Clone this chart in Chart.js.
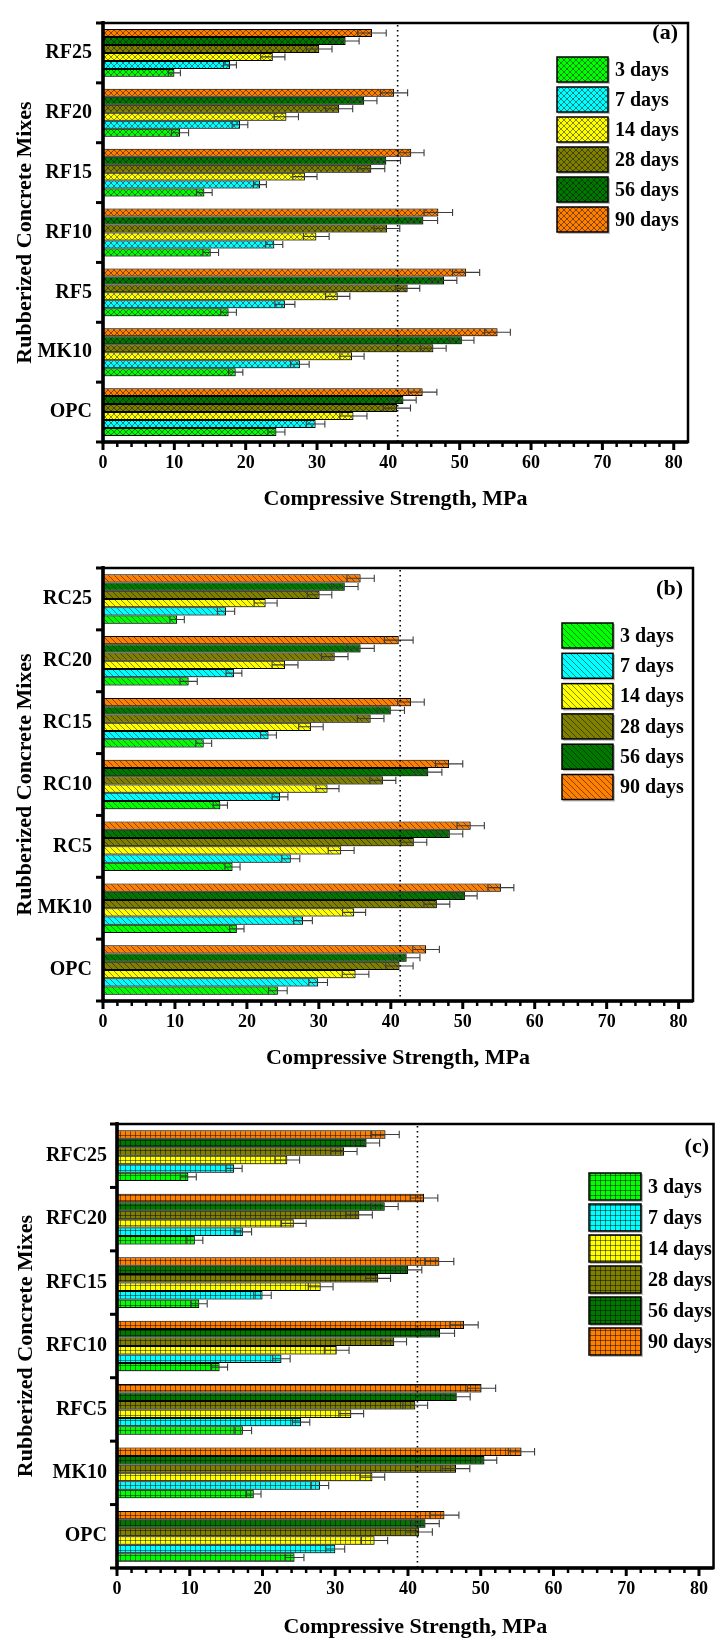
<!DOCTYPE html>
<html>
<head>
<meta charset="utf-8">
<script src="https://cdn.jsdelivr.net/npm/chart.js@4.4.1/dist/chart.umd.min.js"></script>
<style>
  body { margin: 0; background: #fff; }
  canvas { position: absolute; left: 0; }
</style>
</head>
<body>
<canvas id="chartA" width="719" height="540" style="top:0px"></canvas>
<canvas id="chartB" width="719" height="540" style="top:545px"></canvas>
<canvas id="chartC" width="719" height="546" style="top:1095px"></canvas>
<script>
// ---- data ----
var days = ['3 days', '7 days', '14 days', '28 days', '56 days', '90 days'];
var dayColors = ['#00ff00', '#00ffff', '#ffff00', '#808000', '#007800', '#ff8000'];
var xTicks = [0, 10, 20, 30, 40, 50, 60, 70, 80];
var refLine = 41.3;

// (a) fine crumb rubber
var mixesA = ['RF25', 'RF20', 'RF15', 'RF10', 'RF5', 'MK10', 'OPC'];
var a3  = [10.0, 10.8, 14.2, 15.1, 17.6, 18.6, 24.3];
var a7  = [17.8, 19.2, 22.0, 24.0, 25.5, 27.6, 29.8];
var a14 = [23.8, 25.7, 28.3, 29.9, 32.9, 34.9, 35.1];
var a28 = [30.3, 33.1, 37.6, 39.8, 42.7, 46.3, 41.2];
var a56 = [34.0, 36.6, 39.7, 44.9, 47.8, 50.3, 42.1];
var a90 = [37.7, 40.8, 43.2, 47.0, 50.9, 55.3, 44.8];
var a3e  = [0.85, 1.2, 1.1, 1.1, 1.1, 1.0, 1.2];
var a7e  = [0.9, 1.1, 0.9, 1.2, 1.4, 1.3, 1.3];
var a14e = [1.7, 1.7, 1.7, 1.8, 1.7, 1.7, 1.9];
var a28e = [1.8, 1.9, 1.9, 1.8, 1.7, 1.8, 1.9];
var a56e = [1.9, 1.8, 2.0, 2.0, 1.8, 1.7, 1.8];
var a90e = [2.0, 1.9, 1.8, 2.0, 1.9, 1.8, 2.0];

// (b) coarse crumb rubber
var mixesB = ['RC25', 'RC20', 'RC15', 'RC10', 'RC5', 'MK10', 'OPC'];
var b3  = [10.3, 11.9, 14.0, 16.3, 18.0, 18.6, 24.3];
var b7  = [17.1, 18.2, 23.0, 24.6, 26.1, 27.8, 29.9];
var b14 = [22.6, 25.3, 28.9, 31.2, 33.1, 34.9, 35.1];
var b28 = [30.1, 32.2, 37.2, 38.9, 43.2, 46.4, 41.2];
var b56 = [33.6, 35.8, 40.0, 45.2, 48.2, 50.3, 42.2];
var b90 = [35.8, 41.1, 42.8, 48.1, 51.1, 55.3, 44.9];
var b3e  = [1.0, 1.2, 1.1, 1.0, 1.05, 1.0, 1.3];
var b7e  = [1.2, 1.1, 1.1, 1.1, 1.25, 1.3, 1.3];
var b14e = [1.6, 1.8, 1.7, 1.6, 1.8, 1.6, 1.85];
var b28e = [1.7, 1.85, 1.85, 1.8, 1.8, 1.8, 1.9];
var b56e = [1.85, 1.9, 1.9, 1.9, 1.8, 1.7, 1.85];
var b90e = [1.9, 2.0, 1.85, 1.9, 1.9, 1.8, 1.85];

// (c) fine + coarse
var mixesC = ['RFC25', 'RFC20', 'RFC15', 'RFC10', 'RFC5', 'MK10', 'OPC'];
var c3  = [9.8, 10.7, 11.3, 14.1, 17.3, 18.8, 24.4];
var c7  = [16.1, 17.3, 20.0, 22.6, 25.3, 27.9, 30.0];
var c14 = [23.4, 24.3, 28.0, 30.2, 32.2, 35.1, 35.4];
var c28 = [31.2, 33.3, 35.9, 38.1, 41.0, 46.6, 41.5];
var c56 = [34.3, 36.8, 40.0, 44.4, 46.7, 50.5, 42.4];
var c90 = [36.9, 42.2, 44.3, 47.7, 50.1, 55.6, 45.0];
var c3e  = [1.1, 1.1, 1.1, 1.1, 1.2, 1.0, 1.3];
var c7e  = [1.1, 1.2, 1.2, 1.2, 1.2, 1.2, 1.3];
var c14e = [1.7, 1.7, 1.7, 1.7, 1.7, 1.7, 1.8];
var c28e = [1.8, 1.8, 1.7, 1.7, 1.7, 1.9, 1.85];
var c56e = [1.8, 1.85, 1.9, 2.0, 1.85, 1.7, 1.9];
var c90e = [1.9, 1.9, 2.0, 1.95, 1.95, 1.8, 2.0];

var serif = "'Liberation Serif', 'Times New Roman', serif";

// hatch fill like the Origin patterns
function hatch(ctx, color, kind) {
    var s = kind === 'grid' ? 5 : 6;
    var c = document.createElement('canvas');
    c.width = s; c.height = s;
    var g = c.getContext('2d');
    g.fillStyle = color;
    g.fillRect(0, 0, s, s);
    g.strokeStyle = 'rgba(0,0,0,0.6)';
    g.lineWidth = 0.8;
    g.beginPath();
    if (kind === 'grid') {
        g.moveTo(0.5, 0); g.lineTo(0.5, s);
        g.moveTo(0, 0.5); g.lineTo(s, 0.5);
    } else {
        for (var k = -1; k <= 1; k++) {
            g.moveTo(k * s, 0); g.lineTo(k * s + s, s);
            if (kind === 'cross') { g.moveTo(k * s + s, 0); g.lineTo(k * s, s); }
        }
    }
    g.stroke();
    return ctx.createPattern(c, 'repeat');
}

// error bars, dotted reference line, frame, ticks, legend, panel tag
var deco = {
    id: 'deco',
    beforeDatasetsDraw: function (chart) {
        // soft grey drop shadow under the bars, as in the original
        var g = chart.ctx;
        g.save();
        g.shadowColor = 'rgba(0,0,0,0.35)';
        g.shadowBlur = 2;
        g.shadowOffsetX = 1;
        g.shadowOffsetY = 1;
    },
    afterDatasetsDraw: function (chart, args, o) {
        var g = chart.ctx, a = chart.chartArea, xs = chart.scales.x;
        g.restore();
        g.save();
        chart.data.datasets.forEach(function (ds, di) {
            var meta = chart.getDatasetMeta(di);
            meta.data.forEach(function (bar, j) {
                var p = bar.getProps(['y', 'height'], true);
                var v = ds.data[j], e = ds.errors[j];
                var x1 = xs.getPixelForValue(v - e), x2 = xs.getPixelForValue(v + e);
                var h = p.height / 2 - 0.5;
                g.strokeStyle = '#3c3c3c';
                g.lineWidth = 1.1;
                g.beginPath();
                g.moveTo(x1, p.y); g.lineTo(x2, p.y);
                g.moveTo(x1, p.y - h); g.lineTo(x1, p.y + h);
                g.moveTo(x2, p.y - h); g.lineTo(x2, p.y + h);
                g.stroke();
            });
        });
        var rx = xs.getPixelForValue(o.ref);
        g.strokeStyle = '#000';
        g.lineWidth = 1.6;
        g.setLineDash([1.6, 3.4]);
        g.beginPath(); g.moveTo(rx, a.top + 2); g.lineTo(rx, a.bottom); g.stroke();
        g.restore();
    },
    afterDraw: function (chart, args, o) {
        var g = chart.ctx, a = chart.chartArea, xs = chart.scales.x;
        g.save();
        g.strokeStyle = '#000';
        g.lineWidth = 2.5;
        g.strokeRect(a.left, a.top, a.right - a.left, a.bottom - a.top);
        g.lineWidth = 3.5;
        g.beginPath();
        g.moveTo(a.left, a.top - 2); g.lineTo(a.left, a.bottom); g.lineTo(a.right, a.bottom);
        g.stroke();
        // x ticks, minor every 2
        for (var v = 0; v <= 80; v += 2) {
            var px = xs.getPixelForValue(v);
            var major = v % 10 === 0;
            g.lineWidth = major ? 3 : 2.5;
            g.beginPath(); g.moveTo(px, a.bottom); g.lineTo(px, a.bottom + (major ? 8 : 5)); g.stroke();
        }
        // category boundaries on the left axis
        var n = chart.data.labels.length, band = (a.bottom - a.top) / n;
        g.lineWidth = 3;
        for (var i = 0; i <= n; i++) {
            var py = a.top + i * band;
            g.beginPath(); g.moveTo(a.left - 7, py); g.lineTo(a.left, py); g.stroke();
        }
        // legend
        var L = o.legend;
        g.font = 'bold 20px ' + serif;
        g.textBaseline = 'middle';
        g.textAlign = 'left';
        days.forEach(function (d, k) {
            var y = L.top + k * L.gap;
            g.fillStyle = 'rgba(0,0,0,0.25)';
            g.fillRect(L.x + 1, y + 1, L.w + 1, L.h + 1);
            g.fillStyle = o.fills[k];
            g.fillRect(L.x, y, L.w, L.h);
            g.lineWidth = 1.5;
            g.strokeStyle = '#000';
            g.strokeRect(L.x, y, L.w, L.h);
            g.fillStyle = '#000';
            g.fillText(d, L.tx, y + L.h / 2 + 1);
        });
        g.font = 'bold 22px ' + serif;
        g.textAlign = 'right';
        g.fillText(o.tag, o.tagX, o.tagY);
        g.restore();
    }
};

function makeChart(id, p) {
    var ctx = document.getElementById(id).getContext('2d');
    var fills = dayColors.map(function (col) { return hatch(ctx, col, p.kind); });
    var datasets = days.map(function (d, i) {
        return {
            label: d,
            data: p.values[i],
            errors: p.errors[i],
            backgroundColor: fills[i],
            borderColor: '#000',
            borderWidth: 1,
            borderSkipped: false
        };
    }).reverse(); // 90 days drawn on top of each group
    var H = ctx.canvas.height;
    return new Chart(ctx, {
        type: 'bar',
        data: { labels: p.labels, datasets: datasets },
        options: {
            responsive: false,
            animation: false,
            indexAxis: 'y',
            layout: { padding: { top: p.top, right: 719 - p.right, left: 0, bottom: 0 } },
            datasets: { bar: { categoryPercentage: 0.8, barPercentage: 1.0 } },
            scales: {
                x: {
                    min: 0,
                    max: p.xMax,
                    afterBuildTicks: function (s) { s.ticks = xTicks.map(function (v) { return { value: v }; }); },
                    grid: { display: false, drawTicks: false },
                    border: { display: false },
                    ticks: { color: '#000', padding: 11, font: { family: serif, size: 18, weight: 'bold' } },
                    title: {
                        display: true,
                        text: 'Compressive Strength, MPa',
                        color: '#000',
                        font: { family: serif, size: 22, weight: 'bold' },
                        padding: { top: 0, bottom: H - p.titleY - 13.2 }
                    },
                    afterFit: function (s) { s.height = H - p.bottom; }
                },
                y: {
                    grid: { display: false, drawTicks: false },
                    border: { display: false },
                    ticks: { color: '#000', padding: p.labelPad, font: { family: serif, size: 20, weight: 'bold' } },
                    title: {
                        display: true,
                        text: 'Rubberized Concrete Mixes',
                        color: '#000',
                        font: { family: serif, size: 22, weight: 'bold' },
                        padding: { top: p.yTitleX - 13.2, bottom: 0 }
                    },
                    afterFit: function (s) { s.width = p.left; }
                }
            },
            plugins: {
                legend: { display: false },
                tooltip: { enabled: false },
                deco: { ref: refLine, fills: fills, legend: p.legend, tag: p.tag, tagX: p.tagX, tagY: p.tagY }
            }
        },
        plugins: [deco]
    });
}

var chartA = makeChart('chartA', {
    kind: 'cross', labels: mixesA,
    values: [a3, a7, a14, a28, a56, a90], errors: [a3e, a7e, a14e, a28e, a56e, a90e],
    top: 10, bottom: 442, left: 103, right: 688, xMax: 82,
    titleY: 499, yTitleX: 25, labelPad: 11,
    legend: { x: 557, top: 57, w: 51, h: 25, gap: 30, tx: 615 },
    tag: '(a)', tagX: 678, tagY: 33
});

var chartB = makeChart('chartB', {
    kind: 'diag', labels: mixesB,
    values: [b3, b7, b14, b28, b56, b90], errors: [b3e, b7e, b14e, b28e, b56e, b90e],
    top: 21, bottom: 456, left: 103, right: 693, xMax: 82,
    titleY: 513, yTitleX: 25, labelPad: 11,
    legend: { x: 562, top: 78, w: 51, h: 25, gap: 30.3, tx: 620 },
    tag: '(b)', tagX: 683, tagY: 44
});

var chartC = makeChart('chartC', {
    kind: 'grid', labels: mixesC,
    values: [c3, c7, c14, c28, c56, c90], errors: [c3e, c7e, c14e, c28e, c56e, c90e],
    top: 29, bottom: 473, left: 117, right: 718, xMax: 82,
    titleY: 532, yTitleX: 26, labelPad: 10,
    legend: { x: 589, top: 78, w: 52, h: 27, gap: 31, tx: 648 },
    tag: '(c)', tagX: 709, tagY: 52
});
</script>
</body>
</html>
